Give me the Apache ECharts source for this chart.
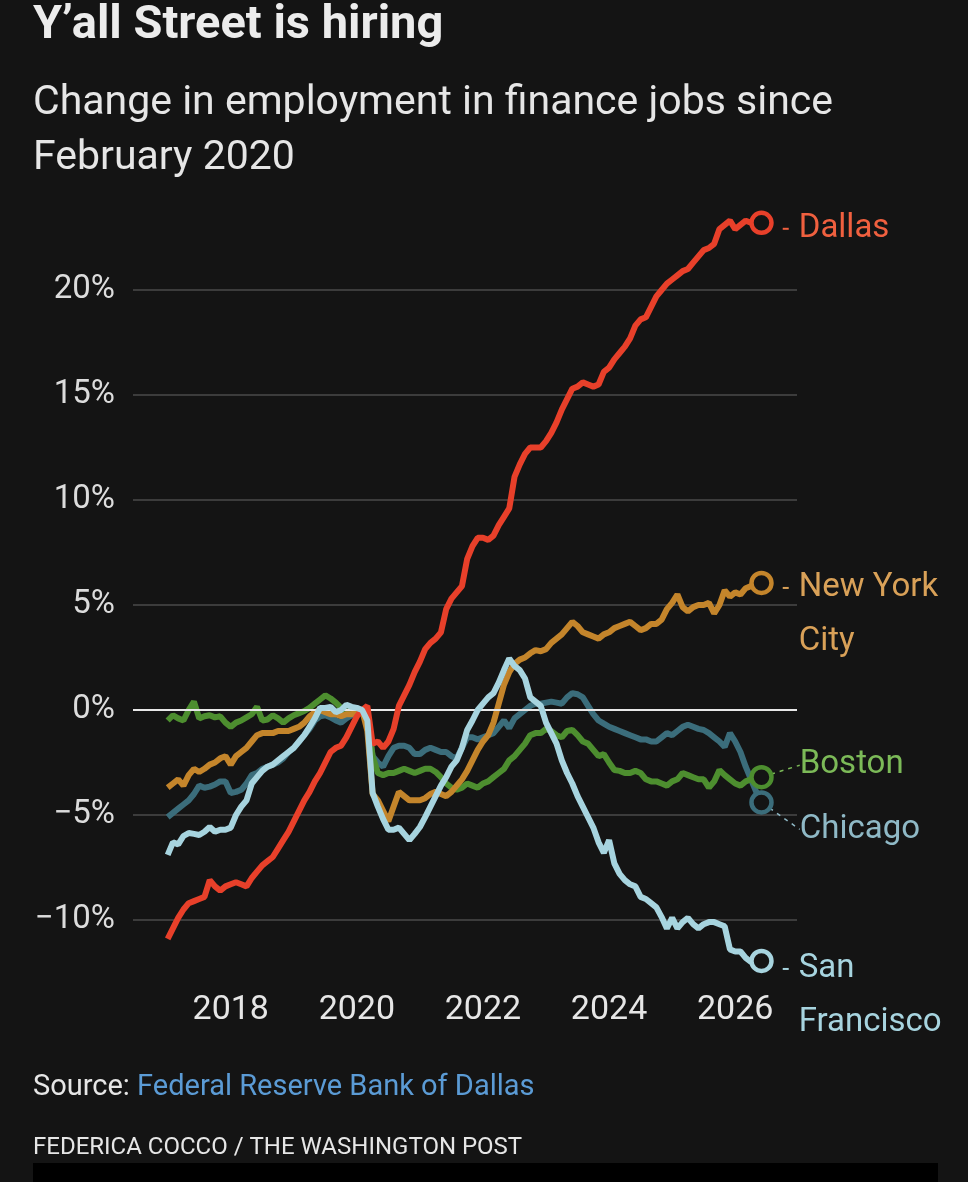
<!DOCTYPE html>
<html lang="en">
<head>
    <meta charset="UTF-8">
    <title>Y'all Street is hiring</title>
    <script src="https://cdn.jsdelivr.net/npm/echarts@6/dist/echarts.min.js"></script>
    <style>
        html, body { margin: 0; padding: 0; background: #141414; }
    </style>
</head>
<body>
<div id="chart" style="width: 968px;height: 1182px;"></div>
<script>
    // monthly points, Jan 2017 .. Jun 2026
    const startYear = 2017;
    const monthCount = 114;
    const months = [];
    for (let i = 0; i < monthCount; i++) months.push(startYear + i / 12);

    const xTicks = [2018, 2020, 2022, 2024, 2026];
    const yTicks = [-10, -5, 0, 5, 10, 15, 20];

    const dallas = [
        -10.9, -10.4, -9.9, -9.5, -9.2, -9.1, -9.0, -8.9, -8.1, -8.4, -8.6, -8.4,
        -8.3, -8.2, -8.3, -8.4, -8.0, -7.7, -7.4, -7.2, -7.0, -6.6, -6.2, -5.8,
        -5.3, -4.8, -4.3, -3.9, -3.4, -3.0, -2.5, -2.0, -1.8, -1.7, -1.3, -0.8,
        -0.3, 0, 0.2, -1.6, -1.5, -1.8, -1.5, -0.9, 0.2, 0.7, 1.2, 1.8,
        2.3, 2.9, 3.2, 3.4, 3.7, 4.8, 5.3, 5.6, 5.9, 7.2, 7.8, 8.2,
        8.2, 8.1, 8.3, 8.8, 9.2, 9.6, 11.1, 11.7, 12.2, 12.5, 12.5, 12.5,
        12.8, 13.2, 13.7, 14.3, 14.8, 15.3, 15.4, 15.6, 15.5, 15.4, 15.5, 16.1,
        16.3, 16.7, 17.0, 17.3, 17.7, 18.3, 18.6, 18.7, 19.2, 19.7, 20.0, 20.3,
        20.5, 20.7, 20.9, 21.0, 21.3, 21.6, 21.9, 22.0, 22.2, 22.9, 23.1, 23.3,
        22.9, 23.1, 23.3, 23.2, 23.2, 23.2
    ];
    const newYork = [
        -3.7, -3.5, -3.3, -3.6, -3.1, -2.8, -2.95, -2.8, -2.6, -2.5, -2.3, -2.2,
        -2.6, -2.2, -2.0, -1.8, -1.5, -1.2, -1.1, -1.1, -1.1, -1.0, -1.0, -1.0,
        -0.9, -0.8, -0.6, -0.3, -0.1, 0.0, -0.1, -0.2, -0.2, -0.3, -0.2, -0.2,
        -0.1, 0, -1.0, -4.0, -4.3, -4.8, -5.3, -4.6, -3.9, -4.1, -4.3, -4.3,
        -4.3, -4.2, -4.0, -3.9, -4.0, -4.1, -3.9, -3.6, -3.3, -2.9, -2.4, -1.9,
        -1.5, -1.2, -0.6, 0.3, 1.2, 1.8, 2.2, 2.4, 2.5, 2.7, 2.85, 2.8,
        2.9, 3.2, 3.4, 3.6, 3.9, 4.2, 4.0, 3.7, 3.6, 3.5, 3.4, 3.6,
        3.7, 3.9, 4.0, 4.1, 4.2, 4.0, 3.8, 3.9, 4.1, 4.1, 4.3, 4.8,
        5.1, 5.5, 4.9, 4.7, 4.9, 5.0, 5.0, 5.1, 4.6, 5.0, 5.7, 5.4,
        5.6, 5.5, 5.8, 5.9, 6.0, 6.05
    ];
    const boston = [
        -0.5, -0.25, -0.4, -0.5, 0.0, 0.4, -0.4, -0.3, -0.25, -0.35, -0.3, -0.6,
        -0.8, -0.6, -0.5, -0.35, -0.2, 0.15, -0.5, -0.45, -0.25, -0.4, -0.6, -0.4,
        -0.25, -0.15, -0.05, 0.1, 0.3, 0.5, 0.7, 0.55, 0.35, 0.1, -0.1, 0.0,
        0.0, 0, -0.2, -2.2, -3.0, -3.1, -3.0, -3.0, -2.9, -2.8, -2.9, -3.0,
        -2.9, -2.8, -2.8, -2.95, -3.2, -3.5, -3.7, -3.8, -3.7, -3.5, -3.6, -3.7,
        -3.5, -3.4, -3.2, -3.0, -2.8, -2.4, -2.2, -1.9, -1.6, -1.2, -1.1, -1.1,
        -0.9, -1.0, -1.2, -1.3, -1.0, -0.95, -1.2, -1.5, -1.6, -1.9, -2.2, -2.1,
        -2.5, -2.86, -2.9, -3.0, -3.0, -2.9, -3.0, -3.3, -3.4, -3.4, -3.5, -3.6,
        -3.4, -3.3, -3.0, -3.1, -3.2, -3.3, -3.3, -3.7, -3.4, -2.86, -3.1, -3.3,
        -3.5, -3.6, -3.4, -3.3, -3.25, -3.2
    ];
    const chicago = [
        -5.1, -4.9, -4.7, -4.5, -4.3, -4.0, -3.6, -3.7, -3.65, -3.55, -3.4, -3.4,
        -3.95, -3.9, -3.8, -3.5, -3.1, -3.0, -2.8, -2.7, -2.6, -2.5, -2.3, -2.0,
        -1.8, -1.5, -1.2, -0.9, -0.5, -0.3, -0.25, -0.35, -0.5, -0.6, -0.4, -0.25,
        -0.1, 0, -0.6, -2.2, -2.5, -2.7, -2.2, -1.8, -1.7, -1.7, -1.8, -2.1,
        -2.1, -1.9, -1.8, -1.9, -2.0, -2.0, -2.2, -2.3, -1.8, -1.3, -1.3, -1.4,
        -1.3, -1.2, -1.1, -0.8, -0.5, -0.86, -0.4, -0.2, 0.0, 0.2, 0.3, 0.3,
        0.35, 0.4, 0.35, 0.3, 0.6, 0.8, 0.75, 0.6, 0.2, -0.2, -0.5, -0.65,
        -0.8, -0.9, -1.0, -1.1, -1.2, -1.3, -1.4, -1.4, -1.5, -1.5, -1.3, -1.1,
        -1.2, -1.0, -0.8, -0.7, -0.8, -0.9, -0.95, -1.1, -1.3, -1.5, -1.76, -1.1,
        -1.5, -2.0, -2.7, -3.3, -3.9, -4.4
    ];
    const sanFrancisco = [
        -6.9, -6.3, -6.4, -6.0, -5.86, -5.9, -5.95, -5.8, -5.57, -5.8, -5.7, -5.7,
        -5.6, -5.0, -4.6, -4.3, -3.5, -3.2, -2.9, -2.7, -2.6, -2.4, -2.2, -2.0,
        -1.8, -1.5, -1.2, -0.8, -0.4, 0.1, 0.1, 0.15, -0.1, 0.0, 0.25, 0.15,
        0.1, 0, -0.5, -3.95, -4.6, -5.2, -5.7, -5.7, -5.6, -5.9, -6.2, -5.9,
        -5.57, -5.1, -4.6, -4.1, -3.6, -3.2, -2.7, -2.4, -1.8, -0.95, -0.5, 0.0,
        0.3, 0.6, 0.8, 1.3, 1.9, 2.45, 2.1, 1.9, 1.5, 0.6, 0.4, 0.2,
        -0.6, -1.1, -1.6, -2.4, -3.0, -3.5, -4.1, -4.6, -5.1, -5.6, -6.3, -6.8,
        -6.2, -7.3, -7.8, -8.1, -8.3, -8.4, -8.9, -9.0, -9.2, -9.4, -9.86, -10.4,
        -9.9, -10.4, -10.1, -9.9, -10.2, -10.4, -10.2, -10.1, -10.1, -10.2, -10.3, -11.4,
        -11.5, -11.5, -11.8, -12.0, -12.0, -11.95
    ];

    const bg = '#141414';
    const font = 'Roboto, "Liberation Sans", sans-serif';
    const labelSize = 33;
    const labelLH = 54;

    // straight: short horizontal dash drawn as a rich token; otherwise a dotted guide line
    function makeSeries(name, values, color, labelColor, text, straight, dy, z) {
        const last = values.length - 1;
        const lines = text.split('\n');
        const formatted = straight
            ? lines.map(function (t, k) { return (k === 0 ? '{d|}' : '{h|}') + '{s|}' + t; }).join('\n')
            : text;
        const data = values.map(function (v, i) {
            if (i < last) return [months[i], v];
            return {
                value: [months[i], v],
                symbolSize: 20,
                itemStyle: {color: bg, borderColor: color, borderWidth: 4.5},
                label: {
                    show: true,
                    position: 'right',
                    distance: straight ? 9 : 6,
                    formatter: formatted,
                    color: labelColor,
                    fontFamily: font,
                    fontSize: labelSize,
                    lineHeight: labelLH,
                    rich: {
                        d: {width: 6, height: 2, backgroundColor: labelColor, verticalAlign: 'middle', lineHeight: labelLH},
                        h: {width: 6, height: 2, verticalAlign: 'middle', lineHeight: labelLH},
                        s: {width: 10, lineHeight: labelLH}
                    }
                }
            };
        });
        const s = {
            name: name,
            type: 'line',
            data: data,
            z: z,
            symbol: 'circle',
            symbolSize: 0,
            showSymbol: true,
            showAllSymbol: true,
            lineStyle: {color: color, width: 6},
            itemStyle: {color: color},
            emphasis: {disabled: true}
        };
        if (straight) {
            s.labelLayout = {dy: dy};
        } else {
            s.labelLayout = {dx: 20, dy: dy};
            s.labelLine = {
                show: true,
                lineStyle: {color: labelColor, width: 1.5, type: [4, 5]}
            };
        }
        return s;
    }

    const dom = document.getElementById('chart');
    const myChart = echarts.init(dom, null, {renderer: 'canvas'});

    const option = {
        backgroundColor: bg,
        animation: false,
        title: [{
            text: 'Y’all Street is hiring',
            left: 33,
            top: 3,
            padding: 0,
            textStyle: {color: '#ececec', fontFamily: font, fontWeight: 'bold', fontSize: 47}
        }, {
            text: 'Change in employment in finance jobs since\nFebruary 2020',
            left: 33,
            top: 76,
            padding: 0,
            textStyle: {color: '#e6e6e6', fontFamily: font, fontWeight: 'normal', fontSize: 41, lineHeight: 55}
        }, {
            text: '{a|Source: }{b|Federal Reserve Bank of Dallas}',
            left: 33,
            top: 1073,
            padding: 0,
            textStyle: {
                fontWeight: 'normal',
                rich: {
                    a: {color: '#e6e6e6', fontFamily: font, fontSize: 29, fontWeight: 'normal'},
                    b: {color: '#5b9bd5', fontFamily: font, fontSize: 29, fontWeight: 'normal'}
                }
            }
        }, {
            text: 'FEDERICA COCCO / THE WASHINGTON POST',
            left: 33,
            top: 1136,
            padding: 0,
            textStyle: {color: '#e6e6e6', fontFamily: font, fontWeight: 'normal', fontSize: 24}
        }],
        graphic: [{
            type: 'rect',
            shape: {x: 33, y: 1163, width: 905, height: 19},
            style: {fill: '#000000'}
        }],
        grid: {left: 133, right: 171, top: 185, bottom: 157},
        xAxis: {
            type: 'value',
            min: 2016.45,
            max: 2026.98,
            axisLine: {show: false},
            axisTick: {show: false},
            splitLine: {show: false},
            axisLabel: {
                customValues: xTicks,
                margin: -32,
                color: '#e6e6e6',
                fontFamily: font,
                fontSize: 34,
                formatter: function (v) { return String(Math.round(v)); }
            }
        },
        yAxis: {
            type: 'value',
            min: -15,
            max: 25,
            interval: 5,
            axisLine: {show: false},
            axisTick: {show: false},
            axisLabel: {
                margin: 18,
                color: '#dcdcdc',
                fontFamily: font,
                fontSize: 33,
                showMinLabel: false,
                showMaxLabel: false,
                formatter: function (v) {
                    if (yTicks.indexOf(v) < 0) return '';
                    return (v < 0 ? '\u2212' + Math.abs(v) : v) + '%';
                }
            },
            splitLine: {
                showMinLine: false,
                showMaxLine: false,
                lineStyle: {color: '#3c3c3c', width: 2}
            }
        },
        series: [
            makeSeries('Chicago', chicago, '#3b6d7b', '#8fb9c6', 'Chicago', false, 27, 2),
            makeSeries('Boston', boston, '#4d8e2f', '#7cba58', 'Boston', false, -12, 3),
            makeSeries('New York City', newYork, '#c4852b', '#d9a158', 'New York\nCity', true, 32, 4),
            makeSeries('Dallas', dallas, '#e8402a', '#f0603f', 'Dallas', true, 6, 5),
            makeSeries('San Francisco', sanFrancisco, '#a7d4df', '#a7d4df', 'San\nFrancisco', true, 35, 6),
            {
                type: 'line',
                data: [],
                z: 7,
                markLine: {
                    silent: true,
                    symbol: 'none',
                    label: {show: false},
                    lineStyle: {color: '#e8e8e8', width: 2, type: 'solid'},
                    data: [{yAxis: 0}]
                }
            }
        ]
    };

    myChart.setOption(option);
</script>
</body>
</html>
